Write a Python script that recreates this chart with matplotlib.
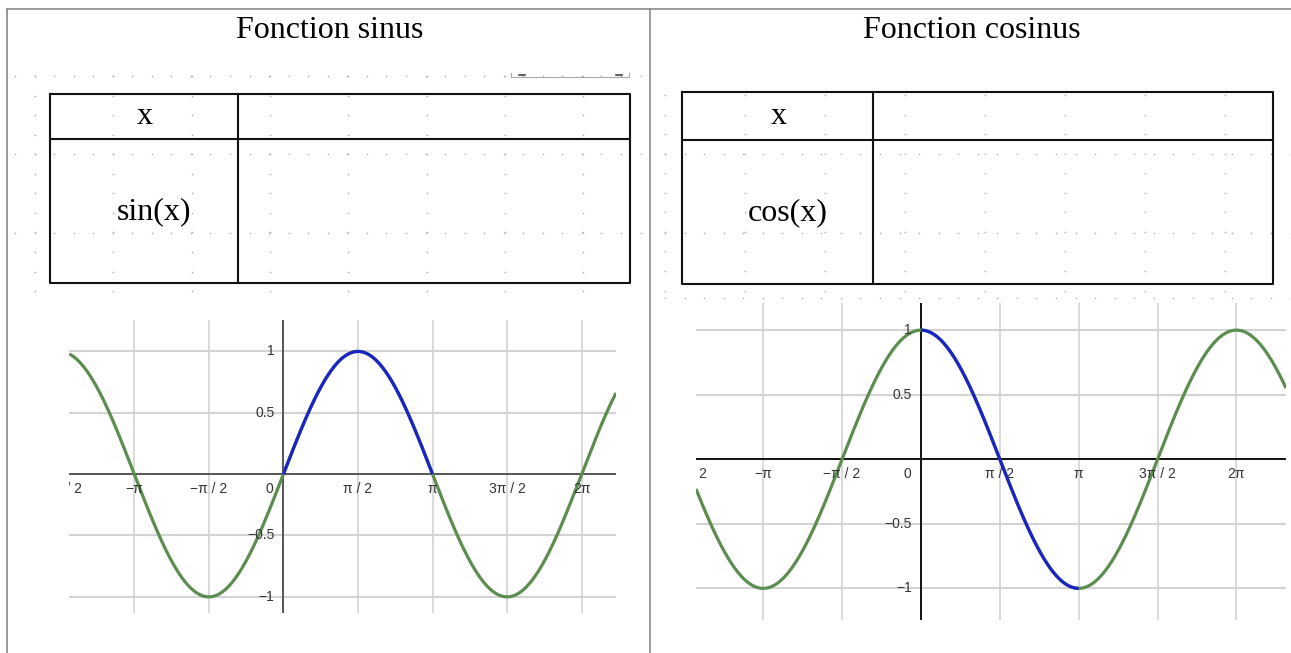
import numpy as np
import matplotlib
matplotlib.use("Agg")
import matplotlib.pyplot as plt
from matplotlib.transforms import offset_copy

# donnees des deux graphiques
titres = ["Fonction sinus", "Fonction cosinus"]
noms_fonctions = ["sin(x)", "cos(x)"]
fonctions = [np.sin, np.cos]
x_limites = [(-4.51, 7.006), (-4.48, 7.27)]
y_limites = [(-1.134, 1.256), (-1.245, 1.21)]
# portion en bleu : de 0 a pi
x_bleu = [(0.0, np.pi), (0.0, np.pi)]
ticks_x_k = [-3, -2, -1, 0, 1, 2, 3, 4]   # multiples de pi/2
labels_x = ["\u22123\u03c0 / 2", "\u2212\u03c0", "\u2212\u03c0 / 2", "0",
            "\u03c0 / 2", "\u03c0", "3\u03c0 / 2", "2\u03c0"]
ticks_y = [-1, -0.5, 0.5, 1]
labels_y = ["\u22121", "\u22120.5", "0.5", "1"]

W, H = 1291, 653
fig = plt.figure(figsize=(W / 100, H / 100), dpi=100)

# fond : coordonnees en pixels
bg = fig.add_axes([0, 0, 1, 1])
bg.set_xlim(0, W)
bg.set_ylim(H, 0)
bg.axis("off")

# cadre de la page
bg.plot([7, W], [9, 9], color="#8a8a8a", lw=1.2)
bg.plot([7, 7], [9, H], color="#8a8a8a", lw=1.2)
bg.plot([650, 650], [9, H], color="#8a8a8a", lw=1.2)

# quadrillage en pointilles (type traitement de texte)
pas = 19.55
def pointilles(x0, x1, lignes, colonnes, y0, y1):
    xs, ys = [], []
    for yl in lignes:
        xx = np.arange(x0, x1, pas)
        xs += list(xx)
        ys += [yl] * len(xx)
    for xc in colonnes:
        yy = np.arange(y0, y1, pas)
        xs += [xc] * len(yy)
        ys += list(yy)
    bg.scatter(xs, ys, s=1.4, color="#b0b0b0", lw=0, zorder=1)

pointilles(15, 646, [76, 154.3, 232.6], np.arange(35, 640, 78.3), 76, 300)
pointilles(665, 1291, [154.3, 232.6], np.arange(665, 1290, 80), 95, 300)
pointilles(665, 1291, [298], [], 0, 0)

# petit artefact au-dessus du tableau de gauche
bg.plot([511, 511, 629, 629], [73, 77, 77, 73], color="#aaaaaa", lw=0.8)
bg.plot([519, 525], [75, 75], color="#444444", lw=1.2)
bg.plot([616, 622], [75, 75], color="#444444", lw=1.2)

# titres
for cx, t in zip([330, 972], titres):
    bg.text(cx, 30, t, ha="center", va="center", fontsize=23,
            family="Liberation Serif", color="black")

# tableaux
tableaux = [(50, 630, 94, 283, 238, 139), (682, 1273, 92, 284, 873, 140)]
for (x0, x1, y0, y1, xd, yd), nom in zip(tableaux, noms_fonctions):
    bg.plot([x0, x1, x1, x0, x0], [y0, y0, y1, y1, y0], color="#111111", lw=1.5, zorder=3)
    bg.plot([xd, xd], [y0, y1], color="#111111", lw=1.5, zorder=3)
    bg.plot([x0, x1], [yd, yd], color="#111111", lw=1.5, zorder=3)
    bg.text((x0 + xd) / 2 + 1, (y0 + yd) / 2, "x", ha="center", va="center",
            fontsize=23, family="Liberation Serif")
    bg.text((x0 + xd) / 2 + 10, (yd + y1) / 2 + 1, nom, ha="center", va="center",
            fontsize=23, family="Liberation Serif")

# graphiques (positions en pixels : gauche, droite, haut, bas)
cadres = [(69.3, 616, 320, 613.3), (696, 1286, 303, 620)]
couleur_axes = ["#555555", "#111111"]
vert = "#5b8d4f"
bleu = "#1b25c6"

for i in range(2):
    l, r, t, b = cadres[i]
    ax = fig.add_axes([l / W, 1 - b / H, (r - l) / W, (b - t) / H])
    ax.set_xlim(*x_limites[i])
    ax.set_ylim(*y_limites[i])
    ax.axis("off")

    for k in ticks_x_k:
        if k != 0:
            ax.axvline(k * np.pi / 2, color="#d3d3d3", lw=1.2, zorder=1)
    for v in ticks_y:
        ax.axhline(v, color="#d3d3d3", lw=1.5, zorder=1)
    ax.axhline(0, color=couleur_axes[i], lw=1.4, zorder=2)
    ax.axvline(0, color=couleur_axes[i], lw=1.4, zorder=2)

    xs = np.linspace(x_limites[i][0], x_limites[i][1], 600)
    ax.plot(xs, fonctions[i](xs), color=vert, lw=2.3, zorder=3,
            solid_capstyle="butt")
    xb = np.linspace(x_bleu[i][0], x_bleu[i][1], 300)
    ax.plot(xb, fonctions[i](xb), color=bleu, lw=2.3, zorder=4,
            solid_capstyle="butt")

    tr_x = offset_copy(ax.transData, fig=fig, x=0, y=-15, units="dots")
    tr_0 = offset_copy(ax.transData, fig=fig, x=-14, y=-15, units="dots")
    for k, lab in zip(ticks_x_k, labels_x):
        ax.text(k * np.pi / 2, 0, lab, transform=tr_0 if k == 0 else tr_x,
                ha="center", va="center", fontsize=10, color="#333333",
                family="Liberation Sans", zorder=5, clip_on=True)
    tr_y = offset_copy(ax.transData, fig=fig, x=-9, y=0, units="dots")
    for v, lab in zip(ticks_y, labels_y):
        ax.text(0, v, lab, transform=tr_y, ha="right", va="center",
                fontsize=10, color="#333333", family="Liberation Sans", zorder=5)

fig.savefig("out.png", dpi=100)
